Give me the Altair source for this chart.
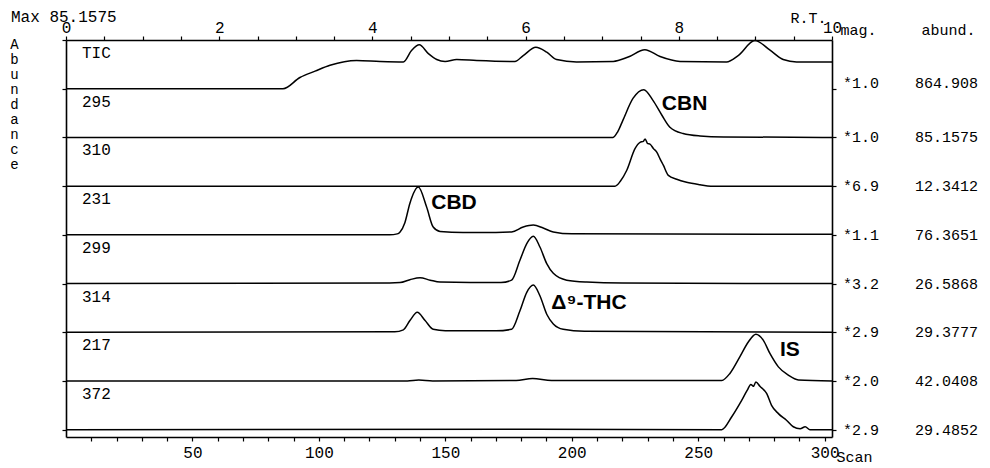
import altair as alt
import pandas as pd

# ---------------- data ----------------
trace_names = ["TIC", "295", "310", "231", "299", "314", "217", "372"]
mag = ["*1.0", "*1.0", "*6.9", "*1.1", "*3.2", "*2.9", "*2.0", "*2.9"]
abund = ["864.908", "85.1575", "12.3412", "76.3651", "26.5868", "29.3777", "42.0408", "29.4852"]
max_label = "Max 85.1575"

# intensities: percent of the trace's band
tic_scan = [0, 85.8, 92.5, 98.5, 104.4, 114.9, 124.2, 133.4, 136.7, 139.7, 143.3, 146.6, 149.9, 154.5,
            162.4, 177.5, 180.8, 185.8, 190.1, 194.0, 201.9, 216.4, 222.3, 228.9, 234.9, 242.8, 261.2,
            265.8, 272.4, 278.4, 283.6, 288.9, 302.9]
tic_int = [0, 0, 23, 36, 48, 58, 56, 55, 79, 90, 72, 60, 56, 60, 58, 56, 68, 85, 75, 60, 55, 56, 65,
           80, 66, 56, 55, 68, 99, 79, 60, 55, 55]

p295_scan = [0, 216.3, 218.2, 220.2, 224.2, 228.5, 232.1, 235.7, 238.8, 244.0, 250.7, 260, 302.9]
p295_int = [0, 0, 12, 35, 80, 98, 76, 45, 21, 8, 3, 1, 0]

p310_scan = [0, 217.1, 219.2, 221.7, 225.0, 227.0, 228.3, 229.0, 229.9, 231.0, 232.3, 233.6, 234.9,
             236.2, 238.2, 241.5, 245.4, 250.7, 255, 302.9]
p310_int = [0, 0, 10, 32, 77, 90, 92, 97, 88, 86, 77, 70, 56, 43, 22, 14, 8, 3, 0, 0]

p231_scan = [0, 128, 131, 132.1, 134.0, 136.0, 139.3, 142.6, 145.2, 147.9, 157.0, 170, 176.2, 180.8,
             184.8, 188.7, 192.7, 200, 302.9]
p231_int = [0, 0, 2, 6, 25, 65, 98, 57, 16, 7, 5, 5, 6, 16, 20, 14, 6, 2, 1]

p299_scan = [0, 128, 132.1, 136, 140.0, 144, 147.9, 160, 172, 176.2, 179.5, 182.2, 184.8, 187.4, 190.1,
             192.7, 198.0, 205.9, 220, 302.9]
p299_int = [0, 1, 2, 8, 12, 7, 3, 2, 2, 7, 48, 82, 97, 75, 41, 21, 7, 3, 1, 0]

p314_scan = [0, 130, 133.4, 136.0, 138.9, 142.0, 145.2, 150, 170, 176.2, 179.5, 182.2, 184.8, 187.4,
             190.1, 192.7, 196.6, 205, 302.9]
p314_int = [0, 1, 5, 24, 41, 24, 6, 3, 3, 6, 44, 82, 97, 75, 37, 17, 6, 2, 0]

p217_scan = [0, 135, 139.5, 145, 178, 184.5, 192, 259.3, 262.6, 266.5, 269.8, 272.8, 275.7, 278.4,
             281.7, 285.6, 289.6, 302.9]
p217_int = [0, 0, 2, 0, 1, 5, 1, 1, 16, 50, 80, 96, 84, 56, 29, 12, 2, 0]

p372_scan = [0, 185, 259.3, 263.2, 266.5, 269.4, 270.8, 271.8, 272.8, 274.4, 277.1, 279.0, 281.7,
             285.0, 287.6, 290.3, 292.3, 294.2, 302.9]
p372_int = [0, 1, 0, 26, 54, 81, 93, 89, 98, 89, 74, 50, 33, 19, 6, 2, 6, 0, 0]

ann_text = ["CBN", "CBD", "Δ⁹-THC", "IS"]
ann_trace = ["295", "231", "314", "217"]
ann_scan = [228.5, 139.3, 184.8, 272.8]

scan_range = [0, 302.9]
rt_range = [0, 10]

# ---------------- build tables ----------------
NB = "\u00a0"
series = [(tic_scan, tic_int), (p295_scan, p295_int), (p310_scan, p310_int), (p231_scan, p231_int),
          (p299_scan, p299_int), (p314_scan, p314_int), (p217_scan, p217_int), (p372_scan, p372_int)]
n = len(trace_names)
rows = []
for i, (name, (sx, sy)) in enumerate(zip(trace_names, series)):
    base = n - 1 - i
    for s, v in zip(sx, sy):
        rows.append({"trace": name, "scan": s, "y": base + v / 100.0})
df = pd.DataFrame(rows)

lab_df = pd.DataFrame({
    "trace": trace_names,
    "base": [n - 1 - i for i in range(n)],
    "top": [n - i for i in range(n)],
    "right": [m + NB * 4 + a for m, a in zip(mag, abund)],
})
ann_df = pd.DataFrame({
    "text": ann_text,
    "scan": ann_scan,
    "top": [n - trace_names.index(t) for t in ann_trace],
})
rt_df = pd.DataFrame({"rt": rt_range, "y": [0, 0]})
max_df = pd.DataFrame({"t": [max_label]})

# ---------------- layout ----------------
W, H = 766, 397
MONO = "Liberation Mono"
BOLD = "Liberation Sans"
xscale = alt.Scale(domain=scan_range, nice=False, zero=False)
yscale = alt.Scale(domain=[-0.15, n], nice=False, zero=False)

lines = alt.Chart(df).mark_line(color="black", strokeWidth=1.5, interpolate="monotone").encode(
    x=alt.X("scan:Q", scale=xscale, axis=alt.Axis(
        orient="bottom", values=list(range(10, 301, 10)),
        labelExpr="datum.value % 50 == 0 ? datum.label : ''",
        labelFlush=False, tickSize=4, labelPadding=3,
        title="Scan", titleX=788, titleY=19, titleAlign="center", titleBaseline="middle",
        titleAngle=0)),
    y=alt.Y("y:Q", scale=yscale, axis=alt.Axis(
        orient="left", values=list(range(0, n + 1)), labels=False, tickSize=4,
        title=list("Abundance"), titleAngle=0, titleX=-52, titleY=4, titleAlign="center",
        titleBaseline="middle", titleLineHeight=15, titleFontSize=14)),
    detail="trace:N",
)

top_axis = alt.Chart(rt_df).mark_point(opacity=0).encode(
    x=alt.X("rt:Q", scale=alt.Scale(domain=rt_range, nice=False, zero=False), axis=alt.Axis(
        orient="top", values=[k * 0.5 for k in range(21)], format=".0f",
        labelExpr="datum.value % 2 == 0 ? datum.label : ''",
        labelFlush=False, tickSize=4, labelPadding=1,
        title="R.T.", titleX=742, titleY=-23, titleAlign="center", titleBaseline="middle",
        titleAngle=0)),
    y=alt.Y("y:Q", scale=yscale, axis=alt.Axis(
        orient="right", values=list(range(0, n)), labels=False, tickSize=4,
        title="mag." + NB * 5 + "abund.", titleAngle=0, titleX=8, titleY=-11, titleAlign="left",
        titleBaseline="middle")),
)

names = alt.Chart(lab_df).mark_text(
    align="left", baseline="middle", dy=13, font=MONO, fontSize=16, color="black"
).encode(x=alt.value(16), y=alt.Y("top:Q", scale=yscale, axis=None), text="trace:N")

right_rest = alt.Chart(lab_df).transform_filter("datum.base < %d" % (n - 1)).mark_text(
    align="left", baseline="middle", font=MONO, fontSize=15, color="black"
).encode(x=alt.value(W + 11), y=alt.Y("base:Q", scale=yscale, axis=None), text="right:N")

right_tic = alt.Chart(lab_df).transform_filter("datum.base == %d" % (n - 1)).mark_text(
    align="left", baseline="middle", dy=-6, font=MONO, fontSize=15, color="black"
).encode(x=alt.value(W + 11), y=alt.Y("base:Q", scale=yscale, axis=None), text="right:N")

offsets = {"CBN": (18, 15), "CBD": (13, 17), "Δ⁹-THC": (18, 19), "IS": (24, 18)}
ann_layers = []
for t in ann_text:
    dx, dy = offsets[t]
    ann_layers.append(
        alt.Chart(ann_df).transform_filter(alt.datum.text == t).mark_text(
            align="left", baseline="middle", dx=dx, dy=dy, font=BOLD, fontSize=21,
            fontWeight="bold", color="black"
        ).encode(
            x=alt.X("scan:Q", scale=xscale, axis=None),
            y=alt.Y("top:Q", scale=yscale, axis=None),
            text="text:N",
        )
    )

max_text = alt.Chart(max_df).mark_text(
    align="left", baseline="middle", font=MONO, fontSize=16, color="black"
).encode(x=alt.value(-55), y=alt.value(-23), text="t:N")

chart = alt.layer(lines, top_axis, names, right_rest, right_tic, *ann_layers, max_text).resolve_scale(
    x="independent", y="independent"
).properties(
    width=W, height=H,
    autosize=alt.AutoSizeParams(type="none"),
    padding={"left": 58, "top": 32, "right": 150, "bottom": 31},
).configure_view(stroke=None).configure_axis(
    domainColor="black", domainWidth=1.6, tickColor="black", tickWidth=1.2, grid=False,
    labelFont=MONO, labelFontSize=16, labelColor="black",
    titleFont=MONO, titleFontSize=15, titleFontWeight="normal", titleColor="black",
)

chart.save("out.html", embed_options={"renderer": "svg", "actions": False})
